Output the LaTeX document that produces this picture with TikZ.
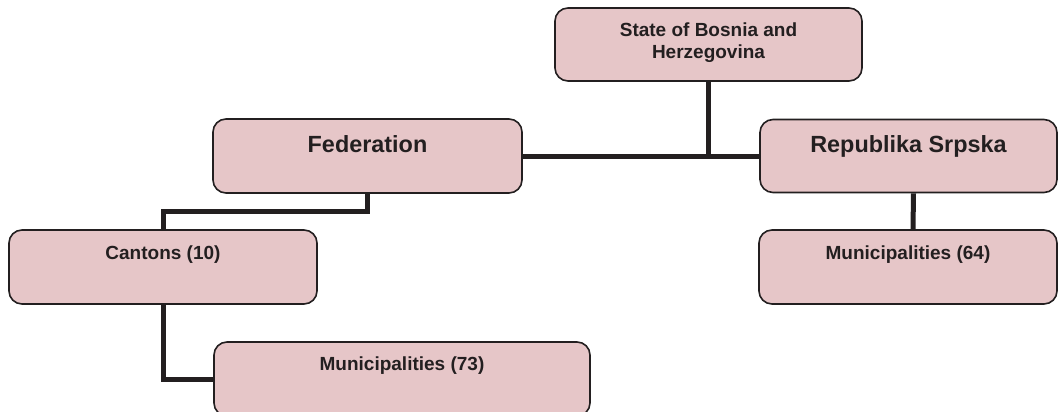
\documentclass[tikz,border=0pt]{standalone}
\usepackage{fontspec}
\setmainfont{Liberation Sans}
\definecolor{boxc}{RGB}{230,198,200}
\definecolor{linec}{RGB}{35,31,32}

\begin{document}
\begin{tikzpicture}[x=1pt,y=-1pt,
    unit/.style={draw=linec,line width=1.6pt,fill=boxc,rounded corners=13pt,
      inner sep=0pt,align=center,text=linec,
      font=\bfseries\fontsize{19}{22}\selectfont},
    big/.style={font=\bfseries\fontsize{23.4}{26}\selectfont},
    link/.style={draw=linec,line width=5pt}]
\useasboundingbox (0,0) rectangle (1058,412);
\node[unit,minimum width=307pt,text height=51pt,text depth=22pt] (state) at (708.5,44.5) {State of Bosnia and\\Herzegovina};
\node[unit,big,minimum width=309pt,text height=33pt,text depth=41pt] (fed) at (367.5,156) {Federation};
\node[unit,big,minimum width=297pt,text height=32.5pt,text depth=40.5pt] (rs) at (908.5,156) {Republika Srpska};
\node[unit,minimum width=308pt,text height=29pt,text depth=45pt] (cant) at (163,267) {Cantons (10)};
\node[unit,minimum width=298pt,text height=29pt,text depth=45pt] (mun64) at (908,267) {Municipalities (64)};
\node[unit,minimum width=376pt,text height=28pt,text depth=46pt] (mun73) at (402,379) {Municipalities (73)};
\draw[link] (fed.east) -- (rs.west);
\draw[link] (state.south) -- ++(0,75);
\draw[link] (fed.south) -- ++(0,18) -| (cant.north);
\draw[link] (cant.south) |- (mun73.west);
\draw[link] ([xshift=5pt]rs.south) -- ([xshift=5pt]mun64.north);
\end{tikzpicture}
\end{document}
